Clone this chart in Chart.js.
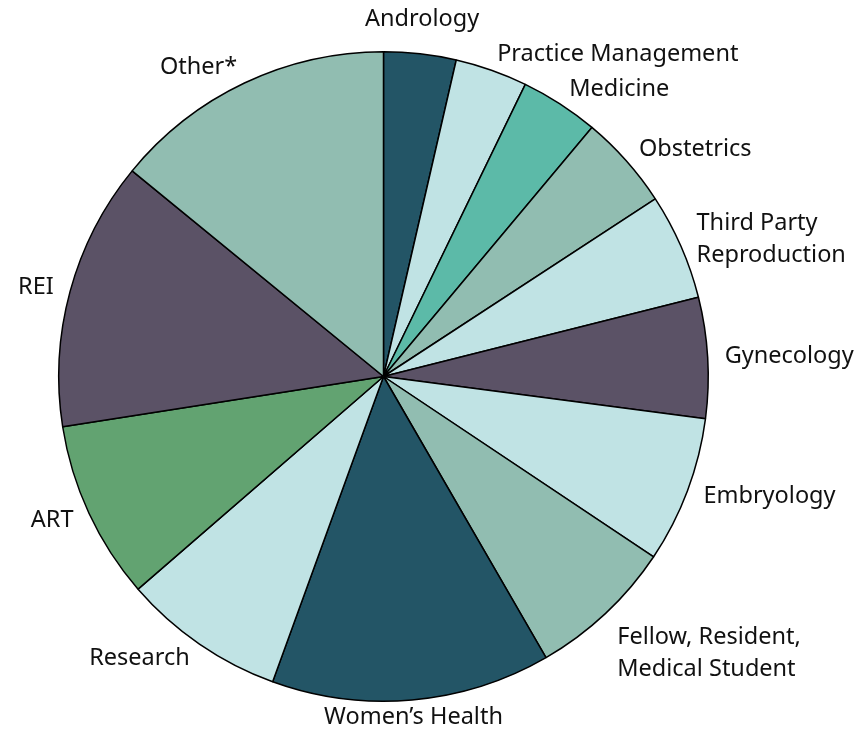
<!DOCTYPE html>
<html>
<head>
<meta charset="utf-8">
<script src="https://cdn.jsdelivr.net/npm/chart.js@4.4.1/dist/chart.umd.min.js"></script>
<style>
  html, body { margin: 0; padding: 0; background: #fff; }
  #wrap { width: 867px; height: 735px; position: relative; }
</style>
</head>
<body>
<div id="wrap"><canvas id="areaChart"></canvas></div>
<script>
  // Categorias (sentido horário a partir do topo)
  var categories = [
    "Andrology", "Practice Management", "Medicine", "Obstetrics",
    ["Third Party", "Reproduction"], "Gynecology", "Embryology",
    ["Fellow, Resident,", "Medical Student"], "Women\u2019s Health",
    "Research", "ART", "REI", "Other*"
  ];
  // Percentual de cada área
  var shares = [3.6, 3.6, 3.9, 4.7, 5.3, 6.0, 7.3, 7.3, 13.9, 8.1, 8.9, 13.4, 14.1];

  var colors = [
    "#235566", "#c0e3e4", "#5cbaa8", "#91bdb1", "#c0e3e4", "#5b5266", "#c0e3e4",
    "#91bdb1", "#235566", "#c0e3e4", "#62a371", "#5b5266", "#91bdb1"
  ];

  // Rótulos fora da pizza
  var outsideLabels = {
    id: 'outsideLabels',
    afterDatasetsDraw: function(chart) {
      var ctx = chart.ctx;
      var meta = chart.getDatasetMeta(0);
      ctx.save();
      ctx.font = '23.5px "Noto Sans", sans-serif';
      ctx.fillStyle = '#111';
      ctx.textBaseline = 'middle';
      meta.data.forEach(function(arc, i) {
        var mid = (arc.startAngle + arc.endAngle) / 2;
        var r = arc.outerRadius + 17;
        var cx = Math.cos(mid), cy = Math.sin(mid);
        var x = arc.x + r * cx;
        var y = arc.y + r * cy;
        var lines = [].concat(chart.data.labels[i]);
        var lh = 32;
        if (cx > 0.2) ctx.textAlign = 'left';
        else if (cx < -0.2) ctx.textAlign = 'right';
        else {
          ctx.textAlign = 'center';
          if (cy < 0) y += cy * 18;
        }
        // rótulos de duas linhas na metade de baixo descem um pouco
        if (lines.length > 1 && cy > 0.5) y += (lines.length - 1) * lh * 0.85;
        lines.forEach(function(line, k) {
          ctx.fillText(line, x, y + (k - (lines.length - 1) / 2) * lh);
        });
      });
      ctx.restore();
    }
  };

  var areaChart = new Chart(document.getElementById('areaChart'), {
    type: 'pie',
    data: {
      labels: categories,
      datasets: [{
        data: shares,
        backgroundColor: colors,
        borderColor: '#000',
        borderWidth: 1.5
      }]
    },
    options: {
      responsive: true,
      maintainAspectRatio: false,
      animation: false,
      layout: { padding: { left: 58, right: 158, top: 51, bottom: 33 } },
      plugins: {
        legend: { display: false },
        tooltip: { enabled: false }
      }
    },
    plugins: [outsideLabels]
  });
</script>
</body>
</html>
